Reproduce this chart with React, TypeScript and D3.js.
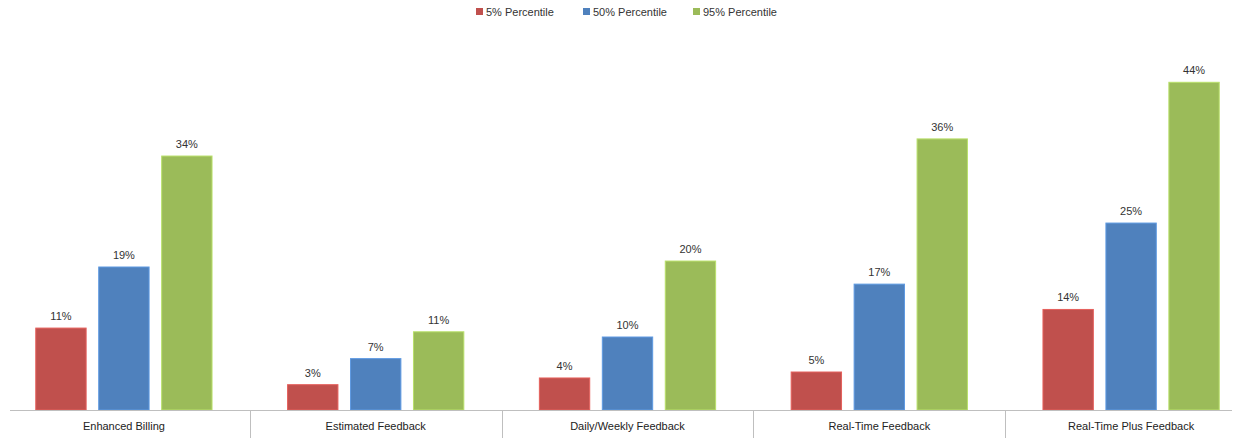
import React from "react";
import * as d3 from "d3";

const categories = ["Enhanced Billing", "Estimated Feedback", "Daily/Weekly Feedback", "Real-Time Feedback", "Real-Time Plus Feedback"];
const seriesNames = ["5% Percentile", "50% Percentile", "95% Percentile"];
const p5 = [11.0, 3.4, 4.3, 5.1, 13.5];
const p50 = [19.2, 6.9, 9.8, 16.9, 25.1];
const p95 = [34.1, 10.5, 20.0, 36.4, 44.0];
const colors = ["#C0504D", "#4F81BD", "#9BBB59"];

export default function App() {
  const W = 1238, H = 438;
  const baseY = 410;
  const series = [p5, p50, p95];
  const x0 = d3.scaleBand<string>().domain(categories).range([-2, 1257]);
  const x1 = d3.scaleBand<string>().domain(seriesNames).range([0, x0.bandwidth()]).paddingInner(0.2).paddingOuter(0.6);
  const y = d3.scaleLinear().domain([0, 44]).range([baseY, 82.3]);
  const font = "'Liberation Sans', Arial, sans-serif";
  const legendX = [476, 583, 693];
  const fmt = (v: number) => `${Math.round(v)}%`;

  return (
    <svg width={W} height={H} style={{ position: "absolute", left: 0, top: 0, background: "#fff" }}>
      {seriesNames.map((s, i) => (
        <g key={s}>
          <rect x={legendX[i]} y={8} width={7} height={7} fill={colors[i]} />
          <text x={legendX[i] + 10} y={15.5} fontFamily={font} fontSize={11} fill="#333">{s}</text>
        </g>
      ))}
      {categories.map((c, ci) => (
        <g key={c}>
          {series.map((vals, si) => {
            const bx = (x0(c) as number) + (x1(seriesNames[si]) as number);
            const bw = x1.bandwidth();
            const top = y(vals[ci]);
            return (
              <g key={si}>
                <rect x={bx} y={top} width={bw} height={baseY - top} fill={colors[si]} stroke={d3.color(colors[si])!.brighter(0.5).toString()} strokeWidth={1} />
                <text x={bx + bw / 2} y={top - 8} textAnchor="middle" fontFamily={font} fontSize={11} fill="#333">{fmt(vals[ci])}</text>
              </g>
            );
          })}
          <text x={(x0(c) as number) + x0.bandwidth() / 2} y={430} textAnchor="middle" fontFamily={font} fontSize={11} fill="#222">{c}</text>
        </g>
      ))}
      <line x1={10} x2={1232} y1={baseY + 0.5} y2={baseY + 0.5} stroke="#BFBFBF" strokeWidth={1} />
      {categories.slice(1).map((c) => (
        <line key={c} x1={Math.round(x0(c) as number) + 0.5} x2={Math.round(x0(c) as number) + 0.5} y1={baseY} y2={438} stroke="#BFBFBF" strokeWidth={1} />
      ))}
    </svg>
  );
}
